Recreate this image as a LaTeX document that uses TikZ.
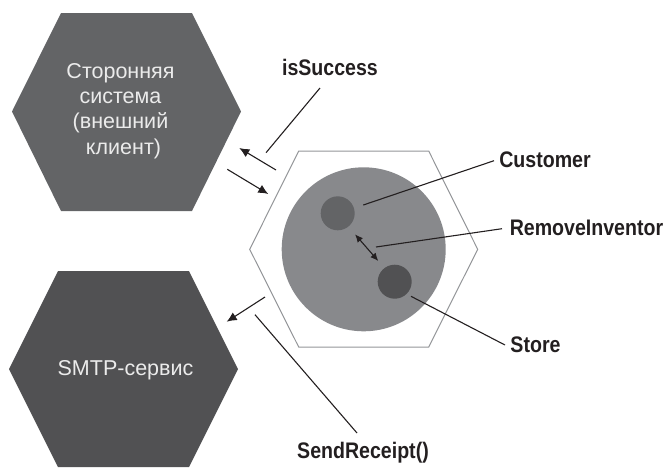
\documentclass[tikz,border=0pt]{standalone}
\usepackage{fontspec}
\setmainfont{Liberation Sans}
\newfontfamily\labelfont[FakeStretch=0.87]{Liberation Sans}
\usetikzlibrary{arrows.meta}
\definecolor{hexa}{HTML}{636466}
\definecolor{hexb}{HTML}{515153}
\definecolor{bigc}{HTML}{88898C}
\definecolor{ink}{HTML}{231F20}
\definecolor{rim}{HTML}{939598}
\tikzset{
  hextext/.style={text=white!92!black,align=center,inner sep=0pt,font=\fontsize{21.5}{25.3}\selectfont},
  lab/.style={text=ink,inner sep=0pt,font=\labelfont\bfseries\fontsize{22.5}{26}\selectfont},
  lead/.style={draw=ink,line width=1.1pt},
  arr/.style={draw=ink,line width=1.1pt,-{Latex[length=10pt,width=9pt]}},
  darr/.style={draw=ink,line width=1.1pt,{Latex[length=8pt,width=7pt]}-{Latex[length=8pt,width=7pt]}},
  disc/.style={circle,inner sep=0pt,minimum size=#1,draw=none}
}
\begin{document}
\begin{tikzpicture}[x=1pt,y=-1pt]
\useasboundingbox (0,0) rectangle (665,467);
\fill[hexa] (61,13) -- (192,13) -- (241,111.5) -- (192,211) -- (61,211) -- (12,111.5) -- cycle;
\fill[hexb] (58,271) -- (189,271) -- (238,369) -- (189,467) -- (58,467) -- (9,369) -- cycle;
\draw[rim,line width=1pt,line join=miter] (298.7,151) -- (428.7,151) -- (477.7,249.3) -- (428.7,347) -- (298.7,347) -- (249.7,249.3) -- cycle;
\node[disc=164pt,fill=bigc] (core) at (363.7,249.3) {};
\node[disc=34pt,fill=hexa] (customer) at (337.7,213.3) {};
\node[disc=34pt,fill=hexb] (store) at (394.7,281.7) {};
\node[hextext] (ext) at (120.5,111) {Сторонняя\\система\\(внешний\\\hspace*{6pt}клиент)};
\node[hextext] (smtp) at (125.5,370) {SMTP-сервис};
\node[lab] (lsuccess) at (330,67) {isSuccess};
\node[lab] (lcustomer) at (545,160) {Customer};
\node[lab] (lremove) at (586.5,228) {RemoveInventor};
\node[lab] (lstore) at (535.5,345) {Store};
\node[lab] (lsend) at (363,453) {SendReceipt()};
\coordinate (a1) at (276,170); \coordinate (a2) at (239.3,148);
\coordinate (b1) at (227.3,169.3); \coordinate (b2) at (268.3,194);
\coordinate (c1) at (265,297); \coordinate (c2) at (226.7,321.7);
\coordinate (d1) at (355,234.3); \coordinate (d2) at (378.3,261);
\coordinate (e1) at (266,152.7); \coordinate (e2) at (320,88);
\coordinate (f1) at (363.3,205); \coordinate (f2) at (494,160.7);
\coordinate (g1) at (376,247); \coordinate (g2) at (502,228.7);
\coordinate (h1) at (411,296.3); \coordinate (h2) at (505,345);
\coordinate (i1) at (255,314.7); \coordinate (i2) at (357,433);
\draw[arr] (a1) -- (a2);
\draw[arr] (b1) -- (b2);
\draw[arr] (c1) -- (c2);
\draw[darr] (d1) -- (d2);
\draw[lead] (e1) -- (e2);
\draw[lead] (f1) -- (f2);
\draw[lead] (g1) -- (g2);
\draw[lead] (h1) -- (h2);
\draw[lead] (i1) -- (i2);
\end{tikzpicture}
\end{document}
